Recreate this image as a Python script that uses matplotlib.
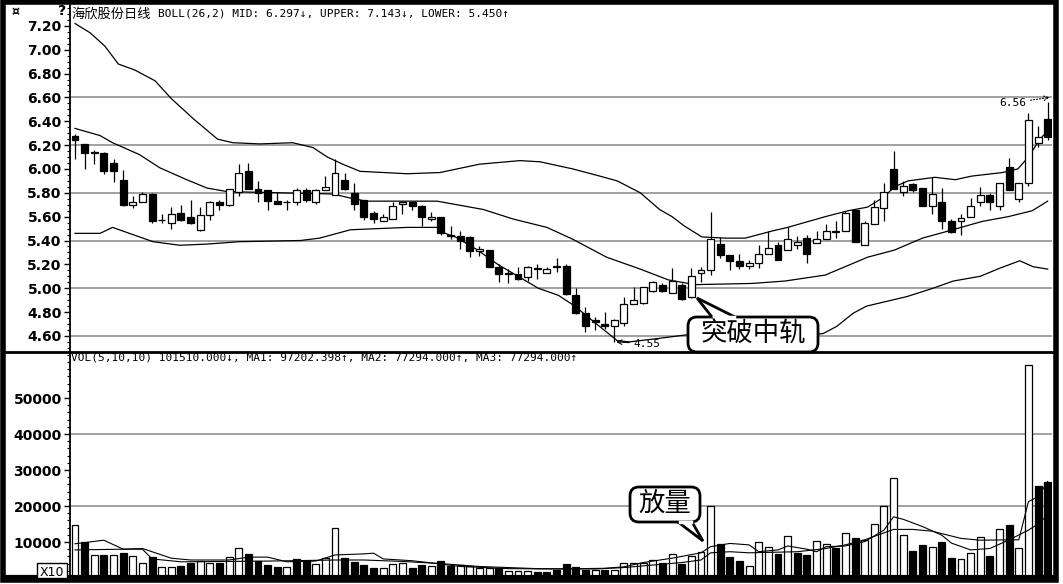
import matplotlib
matplotlib.use("Agg")
import matplotlib.pyplot as plt
import matplotlib.transforms as mtransforms
from matplotlib.patches import FancyBboxPatch, Polygon, Rectangle
from matplotlib.ticker import MultipleLocator
import numpy as np

W, H = 1063, 584

# ── daily candles ────────────────────────────────────────────────────────
opens = [6.28, 6.21, 6.14, 6.13, 6.05, 5.91, 5.70, 5.72, 5.79, 5.57,
         5.55, 5.63, 5.60, 5.49, 5.61, 5.72, 5.70, 5.81, 5.98, 5.83,
         5.82, 5.73, 5.72, 5.72, 5.82, 5.72, 5.82, 5.78, 5.91, 5.80,
         5.74, 5.63, 5.56, 5.58, 5.71, 5.72, 5.69, 5.58, 5.60, 5.45,
         5.44, 5.43, 5.31, 5.32, 5.18, 5.12, 5.12, 5.09, 5.16, 5.13,
         5.18, 5.19, 4.94, 4.79, 4.73, 4.70, 4.68, 4.71, 4.87, 4.88,
         4.98, 5.03, 4.96, 5.03, 4.93, 5.13, 5.15, 5.37, 5.28, 5.23,
         5.19, 5.21, 5.29, 5.36, 5.32, 5.36, 5.42, 5.38, 5.41, 5.47,
         5.48, 5.66, 5.36, 5.54, 5.67, 6.00, 5.81, 5.87, 5.84, 5.69,
         5.72, 5.56, 5.56, 5.60, 5.72, 5.78, 5.69, 6.02, 5.75, 5.88,
         6.22, 6.42]
highs = [6.29, 6.21, 6.16, 6.14, 6.08, 5.99, 5.77, 5.81, 5.80, 5.62,
         5.68, 5.70, 5.74, 5.68, 5.73, 5.74, 5.83, 6.04, 6.05, 5.90,
         5.82, 5.81, 5.74, 5.84, 5.84, 5.83, 5.94, 6.08, 5.97, 5.88,
         5.74, 5.65, 5.62, 5.72, 5.72, 5.72, 5.70, 5.64, 5.60, 5.52,
         5.48, 5.44, 5.35, 5.32, 5.20, 5.16, 5.18, 5.19, 5.20, 5.18,
         5.25, 5.20, 5.00, 4.84, 4.76, 4.80, 4.74, 4.93, 5.01, 5.01,
         5.06, 5.04, 5.17, 5.04, 5.17, 5.18, 5.64, 5.43, 5.28, 5.29,
         5.24, 5.36, 5.48, 5.39, 5.51, 5.44, 5.45, 5.48, 5.54, 5.56,
         5.65, 5.66, 5.56, 5.74, 5.88, 6.15, 5.90, 5.88, 5.84, 5.93,
         5.84, 5.58, 5.62, 5.76, 5.85, 5.80, 5.88, 6.09, 5.88, 6.47,
         6.36, 6.56]
lows = [6.08, 6.00, 6.04, 5.96, 5.89, 5.69, 5.67, 5.72, 5.55, 5.55,
        5.50, 5.56, 5.54, 5.48, 5.57, 5.66, 5.69, 5.77, 5.83, 5.72,
        5.66, 5.71, 5.66, 5.70, 5.72, 5.71, 5.82, 5.78, 5.82, 5.66,
        5.57, 5.55, 5.56, 5.58, 5.62, 5.66, 5.52, 5.56, 5.45, 5.41,
        5.33, 5.26, 5.27, 5.18, 5.05, 5.04, 5.07, 5.06, 5.08, 5.13,
        5.14, 4.94, 4.78, 4.63, 4.65, 4.66, 4.55, 4.68, 4.87, 4.87,
        4.97, 4.97, 4.96, 4.90, 4.92, 5.05, 5.11, 5.25, 5.15, 5.16,
        5.16, 5.17, 5.29, 5.24, 5.32, 5.33, 5.21, 5.38, 5.41, 5.42,
        5.48, 5.39, 5.36, 5.54, 5.56, 5.83, 5.77, 5.81, 5.69, 5.62,
        5.50, 5.46, 5.45, 5.60, 5.69, 5.66, 5.66, 5.82, 5.72, 5.86,
        6.18, 6.24]
closes = [6.24, 6.13, 6.13, 5.98, 5.98, 5.70, 5.72, 5.79, 5.56, 5.575,
          5.62, 5.57, 5.55, 5.61, 5.72, 5.70, 5.83, 5.97, 5.83, 5.80,
          5.73, 5.71, 5.72, 5.82, 5.74, 5.82, 5.85, 5.97, 5.83, 5.71,
          5.60, 5.58, 5.60, 5.69, 5.72, 5.69, 5.60, 5.60, 5.46, 5.44,
          5.40, 5.31, 5.33, 5.18, 5.12, 5.12, 5.08, 5.18, 5.16, 5.16,
          5.18, 4.95, 4.79, 4.68, 4.72, 4.68, 4.73, 4.87, 4.90, 5.01,
          5.05, 4.98, 5.06, 4.91, 5.10, 5.15, 5.41, 5.28, 5.23, 5.19,
          5.21, 5.29, 5.34, 5.24, 5.41, 5.39, 5.29, 5.41, 5.48, 5.47,
          5.63, 5.39, 5.55, 5.68, 5.81, 5.83, 5.86, 5.82, 5.69, 5.79,
          5.56, 5.47, 5.59, 5.69, 5.78, 5.72, 5.88, 5.82, 5.88, 6.41,
          6.27, 6.27]

# ── volume (hands) and bar colour: 1 = hollow, 0 = filled ────────────────
volumes = [14700, 10100, 6400, 6400, 6400, 7000, 6100, 4300, 5900, 3000,
           3000, 3300, 4300, 4600, 4300, 4100, 5700, 8200, 6700, 4700,
           3600, 3000, 3000, 5200, 4600, 3900, 5500, 13800, 5500, 4500,
           3600, 2800, 2800, 3900, 4100, 2800, 3600, 3200, 4600, 3200,
           3600, 3200, 2700, 2700, 2700, 2000, 2000, 2000, 1800, 1800,
           2200, 3900, 3000, 2300, 2300, 2300, 2300, 4300, 4300, 4100,
           5000, 4300, 6700, 3900, 6200, 7100, 20000, 9400, 5700, 4700,
           3400, 10000, 8500, 6700, 11800, 7000, 6400, 10400, 9400, 8200,
           12600, 11200, 10600, 15000, 20000, 27700, 11900, 7500, 9200, 8500,
           10000, 5500, 5200, 7000, 11300, 6100, 13500, 14700, 8200, 59200,
           25600, 26800]
vol_up = [1, 0, 1, 0, 1, 0, 1, 1, 0, 1,
          1, 0, 0, 1, 1, 0, 1, 1, 0, 0,
          0, 0, 1, 0, 0, 1, 1, 1, 0, 0,
          0, 0, 1, 1, 1, 0, 0, 1, 0, 0,
          1, 1, 1, 1, 0, 1, 1, 1, 0, 0,
          0, 0, 0, 0, 1, 0, 1, 1, 1, 1,
          1, 0, 1, 0, 1, 1, 1, 0, 0, 0,
          1, 1, 1, 0, 1, 0, 0, 1, 1, 0,
          1, 0, 1, 1, 1, 1, 1, 0, 0, 1,
          0, 0, 1, 1, 1, 0, 1, 0, 1, 1,
          0, 0]

# ── BOLL(26,2) bands, sampled along the picture (bar index, price) ───────
upper_i = [0, 1.6, 3.1, 4.5, 6.2, 8.3, 10, 12.3, 14.8, 16.4, 19.2, 22.6,
           24.7, 26.2, 27.8, 29.6, 34.5, 37.9, 42, 46.2, 48.3, 51.7, 54.5,
           56.3, 58.7, 60.7, 62, 63.3, 65.1, 67.5, 69.6, 72.4, 74, 77.9,
           80.3, 82.3, 83.9, 85.1, 86.5, 89.3, 91.4, 93.1, 96.3, 97.9, 99,
           100.2, 101]
upper_v = [7.22, 7.14, 7.03, 6.88, 6.83, 6.74, 6.59, 6.42, 6.25, 6.22, 6.21,
           6.22, 6.18, 6.10, 6.04, 5.98, 5.96, 5.97, 6.04, 6.07, 6.06, 6.00,
           5.94, 5.90, 5.80, 5.66, 5.60, 5.52, 5.43, 5.42, 5.42, 5.48, 5.51,
           5.60, 5.65, 5.68, 5.76, 5.85, 5.90, 5.93, 5.91, 5.94, 5.97, 6.00,
           6.10, 6.25, 6.32]
mid_i = [0, 2.6, 3.9, 6.7, 8.8, 11.6, 13.7, 15.8, 21.3, 26.8, 28.9, 30.3,
         37.6, 42.4, 45.5, 49, 51.7, 55.2, 58.7, 61.6, 64.4, 70.3, 73.7,
         77.9, 82.3, 85.1, 88, 90.7, 94.2, 96.9, 99.4, 101]
mid_v = [6.34, 6.28, 6.22, 6.12, 6.01, 5.91, 5.84, 5.81, 5.80, 5.79, 5.75,
         5.73, 5.73, 5.66, 5.58, 5.51, 5.41, 5.26, 5.16, 5.07, 5.03, 5.04,
         5.06, 5.11, 5.26, 5.32, 5.42, 5.48, 5.56, 5.60, 5.65, 5.73]
lower_i = [0, 2.6, 3.9, 6, 8.1, 10.9, 13.7, 17.1, 23.4, 25.4, 28.6, 34.5,
           37.6, 38.1, 39.5, 41.8, 43.9, 46, 48.1, 50.2, 51.9, 53.7, 56.3,
           57.6, 60.7, 63.6, 67, 71.1, 75.3, 77.7, 79.1, 80.8, 82.2, 86.4,
           89.1, 91.2, 94, 96.1, 98.1, 99.5, 101]
lower_v = [5.46, 5.46, 5.51, 5.45, 5.39, 5.36, 5.37, 5.39, 5.40, 5.42, 5.49,
           5.51, 5.51, 5.47, 5.43, 5.32, 5.20, 5.10, 5.00, 4.94, 4.85, 4.73,
           4.56, 4.55, 4.58, 4.61, 4.62, 4.60, 4.60, 4.62, 4.68, 4.79, 4.85,
           4.93, 5.00, 5.06, 5.10, 5.17, 5.23, 5.18, 5.16]

# ── volume moving averages, sampled along the picture ───────────────────
ma5_i = [0, 3, 5, 7, 10, 12, 16, 18, 20, 22, 25, 27, 30, 31, 32, 35, 37, 40,
         45, 50, 55, 57, 59, 62, 65, 66, 68, 70, 71, 73, 74, 76, 77, 78, 80,
         82, 84, 85, 86, 88, 90, 91, 93, 95, 97, 98, 99, 100, 101]
ma5_v = [9500, 10500, 8000, 8200, 5500, 5000, 5000, 5800, 5800, 4500, 4700,
         6400, 6700, 6900, 5300, 4800, 4200, 3200, 2600, 2500, 2700, 3100,
         4300, 5500, 7000, 8700, 9600, 9200, 7300, 7800, 8900, 8000, 7300,
         8700, 8900, 10100, 13300, 17000, 16300, 14300, 11900, 9700, 7800,
         8200, 10600, 10600, 21200, 22600, 26800]
ma10_i = [0, 5, 7, 8, 11, 20, 27, 30, 34, 38, 42, 48, 54, 57, 60, 63, 65, 66,
          68, 70, 75, 78, 80, 82, 85, 87, 89, 92, 94, 97, 99, 100, 101]
ma10_v = [7800, 8000, 8000, 5300, 4500, 4700, 5000, 5000, 4600, 4000, 3200,
          2600, 2500, 2900, 3600, 4300, 5000, 7000, 7300, 7000, 7300, 8200,
          9200, 10600, 13500, 13500, 13000, 11000, 10500, 10600, 13300,
          15000, 17500]

price_ticks = [4.60, 4.80, 5.00, 5.20, 5.40, 5.60, 5.80, 6.00, 6.20, 6.40,
               6.60, 6.80, 7.00, 7.20]
price_grid = [4.60, 5.00, 5.40, 5.80, 6.20, 6.60]
vol_ticks = [10000, 20000, 30000, 40000, 50000]
vol_grid = [20000, 40000]

title_cn = "海欣股份日线"
title_boll = "BOLL(26,2) MID: 6.297↓, UPPER: 7.143↓, LOWER: 5.450↑"
title_vol = "VOL(5,10,10) 101510.000↓, MA1: 97202.398↑, MA2: 77294.000↑, MA3: 77294.000↑"

# ── figure ───────────────────────────────────────────────────────────────
fig = plt.figure(figsize=(W / 100, H / 100), dpi=100)
fig.patch.set_facecolor("white")
# image-pixel coordinates, y pointing down
PX = mtransforms.Affine2D().scale(1 / W, -1 / H).translate(0, 1) + fig.transFigure


def axes_at(x0, y0, x1, y1):
    return fig.add_axes([x0 / W, 1 - y1 / H, (x1 - x0) / W, (y1 - y0) / H])


ax = axes_at(70, 5, 1052, 352)
axv = axes_at(70, 352, 1052, 578)

n = len(opens)
idx = np.arange(n)
o, h, l, c = map(np.array, (opens, highs, lows, closes))
up = c >= o

for a in (ax, axv):
    a.set_xlim(-0.52, 101.45)
    a.set_facecolor("none")
    for s in ("top", "right", "bottom"):
        a.spines[s].set_visible(False)
    a.spines["left"].set_linewidth(1.3)
    a.set_xticks([])
    a.tick_params(axis="y", direction="out", length=4, width=1, pad=2,
                  labelsize=10, colors="black")

ax.set_ylim(4.465, 7.375)
axv.set_ylim(0, 62778)

for g in price_grid:
    ax.axhline(g, color="#9a9a9a", lw=1.3, zorder=1)
for g in vol_grid:
    axv.axhline(g, color="#9a9a9a", lw=1.3, zorder=1)

# candles
ax.vlines(idx, l, h, color="black", lw=0.9, zorder=2)
ax.bar(idx, np.maximum(np.abs(c - o), 0.006), bottom=np.minimum(o, c),
       width=0.72, color=np.where(up, "white", "black"), edgecolor="black",
       lw=0.9, zorder=3)

# bollinger bands
for bi, bv in ((upper_i, upper_v), (mid_i, mid_v), (lower_i, lower_v)):
    ax.plot(bi, bv, color="black", lw=0.9, zorder=2.5)

# volume
axv.bar(idx, volumes, width=0.72,
        color=["white" if u else "black" for u in vol_up],
        edgecolor="black", lw=0.9, zorder=3)
axv.plot(ma5_i, ma5_v, color="black", lw=0.8, zorder=4)
axv.plot(ma10_i, ma10_v, color="black", lw=0.8, zorder=4)

# axis labels
ax.set_yticks(price_ticks)
ax.set_yticklabels([f"{v:.2f}" for v in price_ticks], fontweight="bold")
ax.yaxis.set_minor_locator(MultipleLocator(0.05))
ax.tick_params(axis="y", which="minor", length=2, width=0.8)
axv.set_yticks(vol_ticks)
axv.set_yticklabels([str(v) for v in vol_ticks], fontweight="bold")
axv.yaxis.set_minor_locator(MultipleLocator(2000))
axv.tick_params(axis="y", which="minor", length=2, width=0.8)

# extreme price marks
ax.annotate("4.55", xy=(56.2, 4.55), xytext=(58.0, 4.535), fontsize=8,
            family="DejaVu Sans Mono", va="center",
            arrowprops=dict(arrowstyle="->", lw=0.8, shrinkA=1, shrinkB=0))
ax.annotate("6.56", xy=(101.2, 6.60), xytext=(96.0, 6.555), fontsize=8,
            family="DejaVu Sans Mono", va="center",
            arrowprops=dict(arrowstyle="->", lw=0.8, ls=":", shrinkA=1,
                            shrinkB=0))

# headers
fig.text(71 / W, 1 - 14 / H, title_cn, fontsize=9.5, family="Noto Sans CJK SC",
         va="center")
fig.text(158 / W, 1 - 14 / H, title_boll, fontsize=8,
         family=["DejaVu Sans Mono", "DejaVu Sans"], va="center")
fig.text(71 / W, 1 - 358 / H, title_vol, fontsize=8,
         family=["DejaVu Sans Mono", "DejaVu Sans"], va="center")
fig.text(12 / W, 1 - 12 / H, "¤", fontsize=9, fontweight="bold", va="center")
fig.text(58 / W, 1 - 11 / H, "?", fontsize=10, fontweight="bold", va="center")

# panel divider and outer frame
fig.add_artist(plt.Line2D([6, 1056], [352, 352], color="black", lw=2,
                          transform=PX))
fig.add_artist(plt.Line2D([6, 1056], [577, 577], color="black", lw=3,
                          transform=PX))
fig.add_artist(Rectangle((3, 2), 1053, 578, fill=False, ec="black", lw=4,
                         transform=PX))

# X10 box
fig.add_artist(Rectangle((37, 563), 30, 15, fc="white", ec="black", lw=1,
                         transform=PX, zorder=5))
fig.text(40 / W, 1 - 573 / H, "X10", fontsize=9, va="center", zorder=6)


def bubble(x0, y0, x1, y1, tail, text):
    fig.add_artist(FancyBboxPatch((x0, y0), x1 - x0, y1 - y0,
                                  boxstyle="round,pad=0,rounding_size=9",
                                  fc="white", ec="black", lw=2, transform=PX,
                                  zorder=10))
    fig.add_artist(Polygon(tail, closed=False, fc="white", ec="black", lw=2,
                           transform=PX, zorder=11))
    fig.add_artist(plt.Line2D([tail[0][0] + 1.5, tail[-1][0] - 1.5],
                              [tail[0][1], tail[-1][1]], color="white", lw=2.5,
                              transform=PX, zorder=12))
    fig.text((x0 + x1) / 2 / W, 1 - (y0 + y1) / 2 / H, text, fontsize=19,
             family="Noto Sans CJK SC", ha="center", va="center", zorder=13)


bubble(688, 317, 818, 352, [(712, 317), (697, 298), (735, 317)], "突破中轨")
bubble(630, 487, 700, 522, [(678, 522), (703, 541), (692, 522)], "放量")

fig.savefig("out.png", dpi=100, facecolor="white")
